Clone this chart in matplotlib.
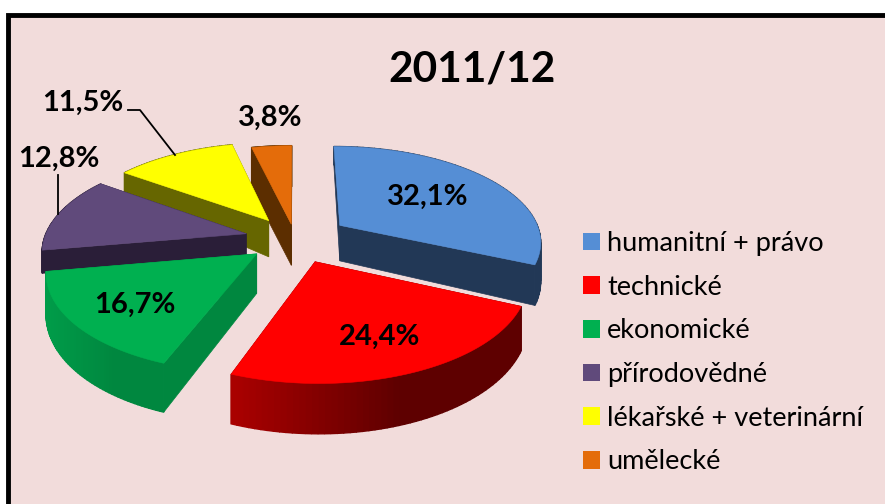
import numpy as np
import matplotlib
matplotlib.use("Agg")
import matplotlib.pyplot as plt
from matplotlib.patches import Polygon, Rectangle, Patch
from matplotlib.colors import to_rgb

title = "2011/12"
categories = ["humanitní + právo", "technické", "ekonomické", "přírodovědné",
              "lékařské + veterinární", "umělecké"]
values = [32.1, 24.4, 16.7, 12.8, 11.5, 3.8]
labels = ["32,1%", "24,4%", "16,7%", "12,8%", "11,5%", "3,8%"]
colors = ["#558ED5", "#FF0000", "#00B050", "#604A7B", "#FFFF00", "#E46C0A"]
wall_colors = ["#223856", "#800000", "#00873F", "#2A1E38", "#666600", "#5C2E00"]
rim_light = ["#223856", "#AC0000", "#009C49", "#2A1E38", "#666600", "#5C2E00"]
rim_dark = ["#223856", "#5E0000", "#00873F", "#2A1E38", "#666600", "#5C2E00"]
explode = [0.27, 0.25, 0.24, 0.25, 0.24, 0.16]
depth_base = [38, 38, 38, 22, 41, 41]
depth_back = [17, 17, 17, 0, 24, 0]
label_xy = [(428, 197), (380, 337), (135, 305), (59, 159), (83, 103), (270, 118)]

plt.rcParams["font.family"] = ["Lato", "DejaVu Sans"]
W, H = 885, 504
fig = plt.figure(figsize=(W / 100, H / 100), dpi=100, facecolor="white")
ax = fig.add_axes([0, 0, 1, 1])
ax.set_xlim(0, W)
ax.set_ylim(H, 0)
ax.axis("off")

ax.add_patch(Rectangle((8, 15), W + 20, H + 20, facecolor="#F2DCDB",
                       edgecolor="black", linewidth=3.5, zorder=0))

X0, Y0, A, B, P = 295, 239, 202, 95, 0.155


def proj(u, v):
    s = 1 + P * v
    return X0 + A * u / s, Y0 - B * v / s


def depth(v, i):
    return depth_base[i] - np.where(v > 0, depth_back[i], 10) * v


fr = np.array(values) / np.sum(values) * 360
ends = 90 - np.cumsum(fr)
starts = ends + fr
order = [5, 4, 3, 2, 0, 1]

for i in order:
    th = np.radians(np.linspace(starts[i], ends[i], 60))
    mid = np.radians((starts[i] + ends[i]) / 2)
    cu, cv = explode[i] * np.cos(mid), explode[i] * np.sin(mid)
    us = cu + np.cos(th)
    vs = cv + np.sin(th)
    x, y = proj(us, vs)
    ax_, ay_ = proj(cu, cv)
    d = depth(vs, i)
    da = depth(cv, i)
    z = 2 + order.index(i)
    # walls
    for k in (0, -1):
        ax.add_patch(Polygon([(ax_, ay_), (x[k], y[k]), (x[k], y[k] + d[k]), (ax_, ay_ + da)],
                             closed=True, facecolor=wall_colors[i], edgecolor=wall_colors[i],
                             linewidth=0.5, zorder=z))
    # rim with shading by angular position
    c1, c2 = np.array(to_rgb(rim_light[i])), np.array(to_rgb(rim_dark[i]))
    for k in range(len(x) - 1):
        t = np.clip(1.7 * (x[k] - x.min()) / max(x.max() - x.min(), 1), 0, 1)
        col = c1 * (1 - t) + c2 * t
        ax.add_patch(Polygon([(x[k], y[k]), (x[k + 1], y[k + 1]),
                              (x[k + 1], y[k + 1] + d[k + 1]), (x[k], y[k] + d[k])],
                             closed=True, facecolor=col, edgecolor=col, linewidth=1.0, zorder=z))
    # top face
    ax.add_patch(Polygon(np.column_stack([np.r_[ax_, x], np.r_[ay_, y]]), closed=True,
                         facecolor=colors[i], edgecolor=colors[i], linewidth=0.4, zorder=z))

# leader lines
ax.plot([128, 140, 175], [110, 110, 155], color="black", lw=1.3, zorder=20)
ax.plot([58, 58], [175, 214], color="black", lw=1.3, zorder=20)

for s, (lx, ly) in zip(labels, label_xy):
    ax.text(lx, ly, s, ha="center", va="center", fontsize=21, fontweight="bold",
            color="black", zorder=30)
ax.text(472, 69, title, ha="center", va="center", fontsize=30.5, fontweight="bold",
        color="black", zorder=30)

handles = [Patch(facecolor=c, edgecolor="none") for c in colors]
fs = 19.5
px = fs * 100 / 72
ax.legend(handles, categories, loc="upper left", bbox_to_anchor=(583, 231),
          bbox_transform=ax.transData, frameon=False, fontsize=fs, borderpad=0,
          borderaxespad=0, handlelength=17 / px, handleheight=17 / px,
          handletextpad=7 / px, labelspacing=0.69, labelcolor="black")

fig.savefig("out.png", dpi=100, facecolor="white")
